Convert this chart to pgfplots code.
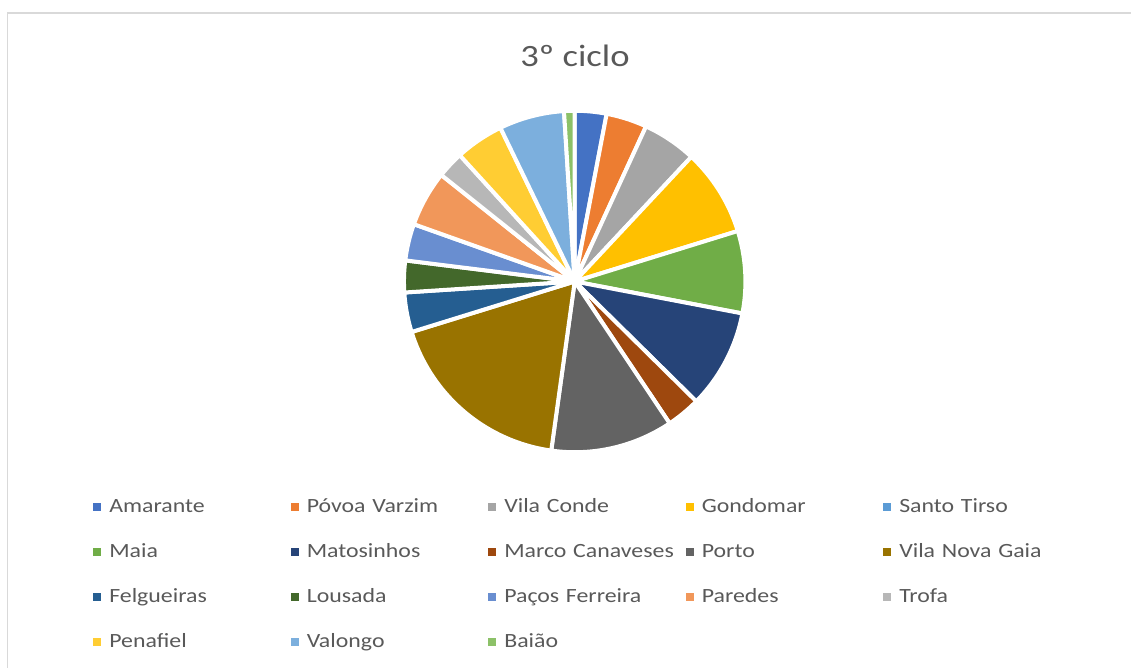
\documentclass[border=0pt]{standalone}
\usepackage{fontspec}
\setmainfont{Carlito}[FakeStretch=1.18]
\usepackage{pgfplots}
\pgfplotsset{compat=1.18}
\definecolor{c1}{HTML}{4472C4}
\definecolor{c2}{HTML}{ED7D31}
\definecolor{c3}{HTML}{A5A5A5}
\definecolor{c4}{HTML}{FFC000}
\definecolor{c5}{HTML}{5B9BD5}
\definecolor{c6}{HTML}{70AD47}
\definecolor{c7}{HTML}{264478}
\definecolor{c8}{HTML}{9E480E}
\definecolor{c9}{HTML}{636363}
\definecolor{c10}{HTML}{997300}
\definecolor{c11}{HTML}{255E91}
\definecolor{c12}{HTML}{43682B}
\definecolor{c13}{HTML}{698ED0}
\definecolor{c14}{HTML}{F1975A}
\definecolor{c15}{HTML}{B7B7B7}
\definecolor{c16}{HTML}{FFCD33}
\definecolor{c17}{HTML}{7CAFDD}
\definecolor{c18}{HTML}{8CC168}
\definecolor{txt}{HTML}{595959}
\definecolor{bordergray}{HTML}{D9D9D9}
\pgfplotsset{slice/.style={draw=white, line width=2pt, line join=round, samples=40}}
\begin{document}
\begin{tikzpicture}
\path[use as bounding box] (0,0) rectangle (565.5pt,334pt);
\draw[color=bordergray, line width=0.75pt] (3.75pt,0pt) -- (3.75pt,327.5pt) -- (565.5pt,327.5pt);
\node[anchor=base, font=\fontsize{15.5}{18}\selectfont, text=txt, inner sep=0pt] at (287.5pt,300.5pt) {3º ciclo};
\begin{axis}[
  at={(287.35pt,193.25pt)}, anchor=center,
  x=84.35pt, y=84.35pt, xmin=-1, xmax=1, ymin=-1, ymax=1,
  hide axis, clip=false,
  legend columns=5,
  legend style={at={(-0.9268,-0.1417)}, anchor=north west, draw=none, fill=none,
    inner sep=0pt, outer sep=0pt, column sep=0pt, row sep=13.5pt,
    font=\fontsize{10.1}{12}\selectfont, text=txt,
    nodes={inner sep=0pt, text width=90.75pt, text height=7pt, text depth=2pt, align=left}},
  legend image code/.code={\fill[#1,draw=none] (0pt,-2pt) rectangle (4pt,2pt); \path[draw=none,fill=none,line width=0pt] (0pt,0pt) -- (8pt,0pt);},
]
% slice boundaries in degrees, clockwise from 12 o'clock
\addplot[slice, fill=c1, domain=0:10.8] ({1.012*sin(x)},{1.012*cos(x)}) -- (axis cs:0,0) -- cycle;
\addlegendentry{Amarante}
\addplot[slice, fill=c2, domain=10.8:24.7] ({1.012*sin(x)},{1.012*cos(x)}) -- (axis cs:0,0) -- cycle;
\addlegendentry{Póvoa Varzim}
\addplot[slice, fill=c3, domain=24.7:43.1] ({1.012*sin(x)},{1.012*cos(x)}) -- (axis cs:0,0) -- cycle;
\addlegendentry{Vila Conde}
\addplot[slice, fill=c4, domain=43.1:72.8] ({1.012*sin(x)},{1.012*cos(x)}) -- (axis cs:0,0) -- cycle;
\addlegendentry{Gondomar}
\addlegendimage{fill=c5}
\addlegendentry{Santo Tirso}
\addplot[slice, fill=c6, domain=72.8:100.8] ({1.012*sin(x)},{1.012*cos(x)}) -- (axis cs:0,0) -- cycle;
\addlegendentry{Maia}
\addplot[slice, fill=c7, domain=100.8:134.6] ({1.012*sin(x)},{1.012*cos(x)}) -- (axis cs:0,0) -- cycle;
\addlegendentry{Matosinhos}
\addplot[slice, fill=c8, domain=134.6:146.2] ({1.012*sin(x)},{1.012*cos(x)}) -- (axis cs:0,0) -- cycle;
\addlegendentry{Marco Canaveses}
\addplot[slice, fill=c9, domain=146.2:187.9] ({1.012*sin(x)},{1.012*cos(x)}) -- (axis cs:0,0) -- cycle;
\addlegendentry{Porto}
\addplot[slice, fill=c10, domain=187.9:252.8] ({1.012*sin(x)},{1.012*cos(x)}) -- (axis cs:0,0) -- cycle;
\addlegendentry{Vila Nova Gaia}
\addplot[slice, fill=c11, domain=252.8:266.3] ({1.012*sin(x)},{1.012*cos(x)}) -- (axis cs:0,0) -- cycle;
\addlegendentry{Felgueiras}
\addplot[slice, fill=c12, domain=266.3:277.1] ({1.012*sin(x)},{1.012*cos(x)}) -- (axis cs:0,0) -- cycle;
\addlegendentry{Lousada}
\addplot[slice, fill=c13, domain=277.1:289.6] ({1.012*sin(x)},{1.012*cos(x)}) -- (axis cs:0,0) -- cycle;
\addlegendentry{Paços Ferreira}
\addplot[slice, fill=c14, domain=289.6:308.6] ({1.012*sin(x)},{1.012*cos(x)}) -- (axis cs:0,0) -- cycle;
\addlegendentry{Paredes}
\addplot[slice, fill=c15, domain=308.6:317.7] ({1.012*sin(x)},{1.012*cos(x)}) -- (axis cs:0,0) -- cycle;
\addlegendentry{Trofa}
\addplot[slice, fill=c16, domain=317.7:334.2] ({1.012*sin(x)},{1.012*cos(x)}) -- (axis cs:0,0) -- cycle;
\addlegendentry{Penafiel}
\addplot[slice, fill=c17, domain=334.2:356.4] ({1.012*sin(x)},{1.012*cos(x)}) -- (axis cs:0,0) -- cycle;
\addlegendentry{Valongo}
\addplot[slice, fill=c18, domain=356.4:360] ({1.012*sin(x)},{1.012*cos(x)}) -- (axis cs:0,0) -- cycle;
\addlegendentry{Baião}
\end{axis}
\end{tikzpicture}
\end{document}
